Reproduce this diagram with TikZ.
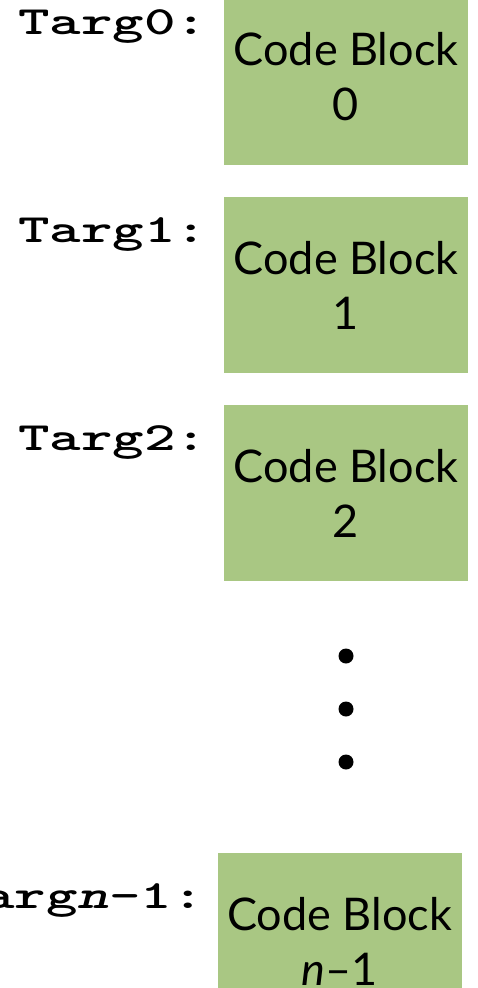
\documentclass[tikz,border=0pt]{standalone}
\usepackage{fontspec}
\usepackage{graphicx}
\setmainfont{Lato}
\definecolor{blockgreen}{HTML}{A9C783}
\newcommand{\lblstretch}[1]{\scalebox{1.5}[1]{#1}}
\begin{document}
\begin{tikzpicture}[x=1pt,y=-1pt,
  codeblock/.style={fill=blockgreen, draw=none, minimum width=244pt, minimum height=176pt,
     inner sep=0pt, align=center, font=\fontsize{45}{55}\selectfont},
  targlabel/.style={anchor=base west, inner sep=0pt, font=\ttfamily\bfseries\fontsize{40}{44}\selectfont},
  vdot/.style={circle, fill=black, minimum size=15pt, inner sep=0pt}]
\useasboundingbox (0,0) rectangle (477,988);
\node[codeblock] (b0) at (346,77) {Code Block\\0};
\node[codeblock] (b1) at (346,285) {Code Block\\1};
\node[codeblock] (b2) at (346,493) {Code Block\\2};
\node[codeblock] (bn) at (339.5,941) {Code Block\\\textit{n}--1};
\node[targlabel] (l0) at (18,34) {\lblstretch{Targ0:}};
\node[targlabel] (l1) at (18,242) {\lblstretch{Targ1:}};
\node[targlabel] (l2) at (18,450) {\lblstretch{Targ2:}};
\node[targlabel, anchor=base east] (ln) at (204,908) {\lblstretch{Targ\textsl{n}-1:}};
\node[vdot] (d1) at (346,656) {};
\node[vdot] (d2) at (346,709) {};
\node[vdot] (d3) at (346,762) {};
\end{tikzpicture}
\end{document}
